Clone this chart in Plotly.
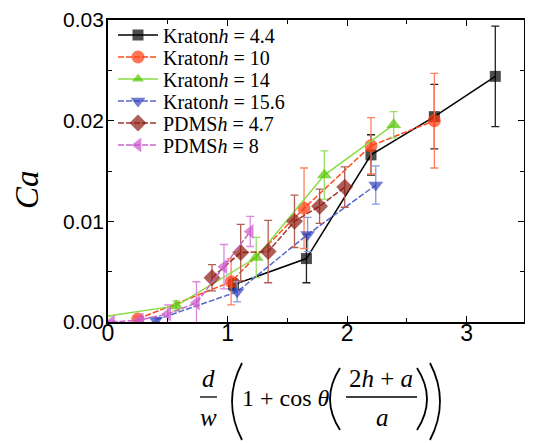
import plotly.graph_objects as go

# ---------------- data ----------------
k44_x = [1.05, 1.66, 2.20, 2.73, 3.24]
k44_y = [0.0037, 0.0063, 0.0166, 0.0204, 0.0244]
k44_e = [0.0006, 0.0024, 0.0020, 0.0032, 0.0050]

k10_x = [0.25, 1.03, 1.64, 2.20, 2.73]
k10_y = [0.0003, 0.0040, 0.0113, 0.0175, 0.0200]
k10_e = [0.0002, 0.0023, 0.0040, 0.0028, 0.0047]

k14_x = [0.00, 0.57, 1.24, 1.81, 2.39]
k14_y = [0.0006, 0.0016, 0.0064, 0.0146, 0.0196]
k14_e = [0.0, 0.0005, 0.0020, 0.0024, 0.0013]

k156_x = [0.40, 1.08, 1.67, 2.24]
k156_y = [0.0002, 0.0030, 0.0087, 0.0136]
k156_e = [0.0002, 0.0010, 0.0017, 0.0019]

p47_x = [0.87, 1.11, 1.34, 1.56, 1.77, 1.98]
p47_y = [0.0044, 0.0069, 0.0070, 0.0100, 0.0115, 0.0134]
p47_e = [0.0013, 0.0028, 0.0031, 0.0026, 0.0017, 0.0020]

p8_x = [0.03, 0.27, 0.50, 0.74, 0.97, 1.19]
p8_y = [0.0000, 0.0002, 0.0008, 0.0019, 0.0055, 0.0090]
p8_e = [0.0001, 0.0002, 0.0009, 0.0021, 0.0022, 0.0015]

x_ticks = [0, 1, 2, 3]
y_ticks = [0.00, 0.01, 0.02, 0.03]

# ---------------- figure ----------------
OFF = 8  # page body margin
W, H = 533 - OFF, 444 - OFF
L, R, T, B = 108 - OFF, 9, 20 - OFF, 122

pw, ph = W - L - R, H - T - B

def px2p(px, py):
    # reference-screen pixel -> paper coords
    return (px - OFF - L) / pw, (H - B - (py - OFF)) / ph

fig = go.Figure()

series = [
    ("Kraton<i>h</i> = 4.4", k44_x, k44_y, k44_e, "#000000", "#000000", "#222222", "solid", "square", 11),
    ("Kraton<i>h</i> = 10", k10_x, k10_y, k10_e, "#FF3A10", "#FF4A20", "#FF8060", "6px,2px", "circle", 13),
    ("Kraton<i>h</i> = 14", k14_x, k14_y, k14_e, "#55C500", "#88DD44", "#99DD66", "solid", "triangle-up", 13),
    ("Kraton<i>h</i> = 15.6", k156_x, k156_y, k156_e, "#3344BB", "#5566CC", "#8899DD", "6px,2px", "triangle-down", 13),
    ("PDMS<i>h</i> = 4.7", p47_x, p47_y, p47_e, "#8B1A10", "#A03A30", "#B06050", "6px,2px", "diamond", 13),
    ("PDMS<i>h</i> = 8", p8_x, p8_y, p8_e, "#CC55CC", "#CC66CC", "#DD88DD", "6px,2px", "triangle-left", 13),
]

legend_rows = [35, 57, 79, 101, 123, 145]
legends = {}
for i, (name, xs, ys, es, mc, lc, ec, dash, sym, ms) in enumerate(series):
    sizes = [0 if (e == 0 and j == 0 and i == 2) else ms for j, e in enumerate(es)]
    lname = "legend" if i == 0 else "legend%d" % (i + 1)
    fig.add_trace(go.Scatter(
        x=xs, y=ys, name=name, mode="lines+markers", legend=lname,
        line=dict(color=lc, width=1.5, dash=dash),
        marker=dict(symbol=sym, size=sizes, color=mc, line=dict(width=0)),
        error_y=dict(type="data", array=es, visible=True, color=ec, thickness=1.3, width=4),
    ))
    lx, ly = px2p(113, legend_rows[i])
    legends[lname] = dict(x=lx, y=ly, xanchor="left", yanchor="middle",
                          bgcolor="rgba(0,0,0,0)", borderwidth=0,
                          font=dict(family="Liberation Serif", size=20, color="black"),
                          itemwidth=40)

fig.update_layout(
    width=W, height=H,
    margin=dict(l=L, r=R, t=T, b=B, pad=0, autoexpand=False),
    plot_bgcolor="white", paper_bgcolor="white",
    showlegend=True,
    font=dict(family="Liberation Sans", color="black"),
    **legends,
)

fig.update_xaxes(
    range=[0, 3.48], tickvals=x_ticks, ticktext=[str(v) for v in x_ticks],
    ticks="inside", ticklen=6, tickwidth=1.3, tickcolor="black",
    minor=dict(dtick=0.5, ticks="inside", ticklen=4, tickwidth=1.2, tickcolor="black"),
    showline=True, linecolor="black", linewidth=1.8, mirror="ticks",
    showgrid=False, zeroline=False, automargin=False, ticklabeloverflow="allow",
    tickfont=dict(family="Liberation Sans", size=23, color="black"),
    ticklabelstandoff=-11,
)
fig.update_yaxes(
    range=[0, 0.03], tickvals=y_ticks, ticktext=["%.2f" % v for v in y_ticks],
    ticks="inside", ticklen=6, tickwidth=1.3, tickcolor="black",
    minor=dict(dtick=0.005, ticks="inside", ticklen=4, tickwidth=1.2, tickcolor="black"),
    showline=True, linecolor="black", linewidth=1.8, mirror="ticks",
    showgrid=False, zeroline=False, automargin=False, ticklabeloverflow="allow",
    tickfont=dict(family="Liberation Sans", size=21, color="black"),
    ticklabelstandoff=-2,
)

anns = []
def txt(s, px, py, size=24, italic=False, angle=0):
    xp, yp = px2p(px, py)
    anns.append(dict(text=("<i>%s</i>" % s) if italic else s, x=xp, y=yp,
                     xref="paper", yref="paper", xanchor="center", yanchor="middle",
                     showarrow=False, textangle=angle,
                     font=dict(family="Liberation Serif", size=size, color="black")))

# y title
txt("Ca", 27, 190, size=33, italic=True, angle=-90)

# x title formula
txt("d", 208, 378, size=25, italic=True)
txt("w", 208, 417, size=25, italic=True)
txt("1 + cos <i>θ</i>", 286, 398, size=24)
txt("2<i>h</i> + <i>a</i>", 381, 378, size=25)
txt("a", 382, 417, size=25, italic=True)

shapes = []
def hline(x0, x1, y):
    a = px2p(x0, y); b = px2p(x1, y)
    shapes.append(dict(type="line", xref="paper", yref="paper",
                       x0=a[0], y0=a[1], x1=b[0], y1=b[1],
                       line=dict(color="black", width=1.3)))

def paren(xe, xc, y0, y1):
    a = px2p(xe, y0); c = px2p(xc, (y0 + y1) / 2); b = px2p(xe, y1)
    shapes.append(dict(type="path", xref="paper", yref="paper",
                       path="M %f,%f Q %f,%f %f,%f" % (a[0], a[1], c[0], c[1], b[0], b[1]),
                       line=dict(color="black", width=1.8)))

hline(200, 217, 397)
hline(346, 417, 397)
paren(242, 222, 363, 440)
paren(340, 320, 368, 430)
paren(417, 437, 368, 430)
paren(430, 450, 363, 440)

fig.update_layout(annotations=anns, shapes=shapes)

fig.write_html("out.html")
